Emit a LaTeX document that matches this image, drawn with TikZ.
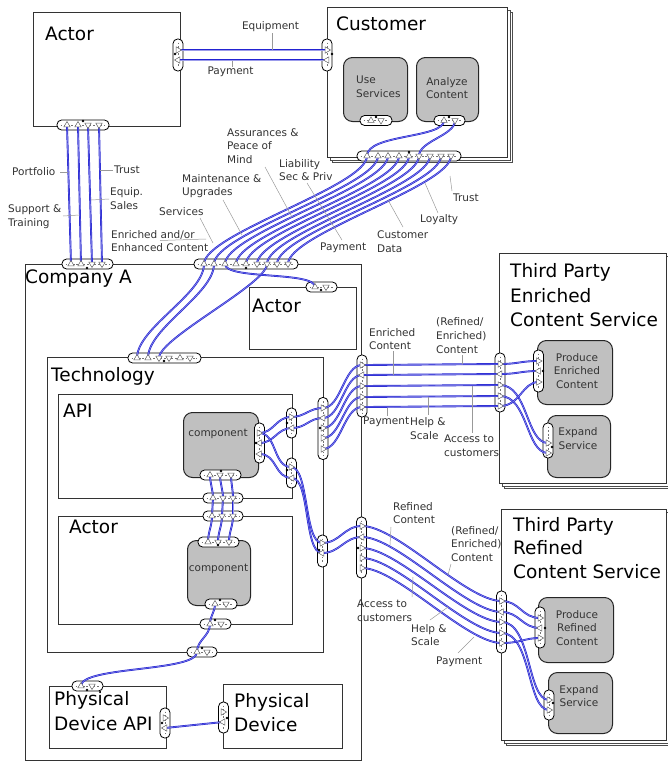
\documentclass[tikz,border=0pt]{standalone}
\usepackage{fontspec}
\setmainfont{DejaVu Sans}
\usetikzlibrary{shapes.geometric}
\pgfdeclarelayer{bg}
\pgfdeclarelayer{pills}
\pgfdeclarelayer{wires}
\pgfsetlayers{bg,pills,wires,main}

\definecolor{wireblue}{RGB}{35,35,210}
\definecolor{compgray}{RGB}{192,192,192}
\definecolor{labelgray}{RGB}{50,50,50}

\tikzset{
  box/.style={draw=black!80, line width=1pt, fill=white, inner sep=0pt},
  shadowbox/.style={draw=black!70, line width=0.8pt, fill=white, inner sep=0pt},
  gbox/.style={draw=black!85, line width=1pt, fill=compgray, rounded corners=9pt, inner sep=0pt},
  pillshape/.style={draw=black, line width=0.8pt, fill=white, rounded corners=4.6pt, inner sep=0pt},
  pilldash/.style={draw=black!55, line width=0.35pt, dash pattern=on 1.8pt off 1.8pt},
  tri/.style={regular polygon, regular polygon sides=3, draw=black!60, fill=white,
              line width=0.5pt, inner sep=0pt, minimum size=7.2pt},
  triU/.style={tri},
  triD/.style={tri, shape border rotate=180},
  triR/.style={tri, shape border rotate=-90},
  triL/.style={tri, shape border rotate=90},
  pdot/.style={circle, fill=black, inner sep=0pt, minimum size=2.6pt},
  wire/.style={draw=wireblue, line width=0.7pt, double=wireblue!45!white, double distance=0.45pt},
  lead/.style={draw=black!40, line width=0.5pt},
  lab/.style={font=\fontsize{10.5}{13.8}\selectfont, text=labelgray, inner sep=0pt, align=left, anchor=west},
  ttl/.style={font=\fontsize{18.5}{22}\selectfont, inner sep=0pt, anchor=base west},
  ctext/.style={font=\fontsize{10.5}{13.8}\selectfont, text=black!80, inner sep=0pt, align=center},
}

% box node given by its corners (x1,y1) (x2,y2)
\newcommand{\rectnode}[6]{\node[#1, anchor=north west, minimum width={(#5-#3)*1pt},
  minimum height={(#6-#4)*1pt}] (#2) at (#3,#4) {};}
% port pills: name, centre x, centre y, length
\newcommand{\hpillat}[4]{\node[pillshape, minimum width={#4*1pt}, minimum height=10pt] (#1) at (#2,#3) {};
  \draw[pilldash] ([xshift=4pt]#1.west) -- ([xshift=-4pt]#1.east);}
\newcommand{\vpillat}[4]{\node[pillshape, minimum width=10pt, minimum height={#4*1pt}] (#1) at (#2,#3) {};
  \draw[pilldash] ([yshift=-4pt]#1.north) -- ([yshift=4pt]#1.south);}

\begin{document}
\begin{tikzpicture}[x=1pt, y=-1pt]
\useasboundingbox (0,0) rectangle (668,761);

% ---------------- boxes ----------------
\begin{pgfonlayer}{bg}
\rectnode{shadowbox}{custS2}{332}{12}{512}{162}
\rectnode{shadowbox}{custS1}{329.5}{9.5}{509.5}{159.5}
\rectnode{box}{customer}{327}{7}{507}{157}
\rectnode{box}{actorTop}{33}{12}{180}{126}
\rectnode{box}{companyA}{25}{264}{361}{760}
\rectnode{box}{innerActor}{249}{287}{356}{349}
\rectnode{box}{tech}{47}{357}{323}{652}
\rectnode{box}{api}{58}{394}{292}{498}
\rectnode{box}{lowActor}{58}{516}{292}{624}
\rectnode{box}{pda}{49}{686}{166}{748}
\rectnode{box}{pd}{223}{684}{342}{748}
\rectnode{shadowbox}{tpES2}{504}{258}{671}{488}
\rectnode{shadowbox}{tpES1}{501.5}{255.5}{668.5}{485.5}
\rectnode{box}{tpE}{499}{253}{666}{483}
\rectnode{shadowbox}{tpRS2}{506}{514}{671}{745}
\rectnode{shadowbox}{tpRS1}{503.5}{511.5}{668.5}{742.5}
\rectnode{box}{tpR}{501}{509}{666}{740}
\rectnode{gbox}{useSvc}{343}{57}{407}{121}
\rectnode{gbox}{anaCont}{416}{57}{478}{121}
\rectnode{gbox}{comp1}{183}{412}{258}{477}
\rectnode{gbox}{comp2}{187}{540}{250}{605}
\rectnode{gbox}{prodE}{537}{340}{612}{404}
\rectnode{gbox}{expE}{547}{415}{610}{477}
\rectnode{gbox}{prodR}{538}{597}{613}{662}
\rectnode{gbox}{expR}{548}{672}{612}{733}
\end{pgfonlayer}

% ---------------- titles and box texts ----------------
\node[ttl] (tActor) at (45,40) {Actor};
\node[ttl] (tCust) at (336,30) {Customer};
\node[ttl] (tComp) at (25,283) {Company A};
\node[ttl] (tIAct) at (252,312) {Actor};
\node[ttl] (tTech) at (51,381) {Technology};
\node[ttl] (tApi) at (63,417) {API};
\node[ttl] (tLAct) at (69,533) {Actor};
\node[ttl] (tPda1) at (54,705) {Physical};
\node[ttl] (tPda2) at (54,730) {Device API};
\node[ttl] (tPd1) at (234,707) {Physical};
\node[ttl] (tPd2) at (234,731) {Device};
\node[ttl] (tE1) at (510,277) {Third Party};
\node[ttl] (tE2) at (510,302) {Enriched};
\node[ttl] (tE3) at (510,326) {Content Service};
\node[ttl] (tR1) at (513,531) {Third Party};
\node[ttl] (tR2) at (513,554) {Refined};
\node[ttl] (tR3) at (513,578) {Content Service};

\node[ctext, align=left, anchor=west] (xUse) at (356,86.5) {Use\\Services};
\node[ctext] (xAna) at (447,88) {Analyze\\Content};
\node[ctext] (xC1) at (218,434) {component};
\node[ctext] (xC2) at (218.5,569) {component};
\node[ctext] (xPE) at (577,371) {Produce\\Enriched\\Content};
\node[ctext] (xEE) at (578,438.5) {Expand\\Service};
\node[ctext] (xPR) at (577,628) {Produce\\Refined\\Content};
\node[ctext] (xER) at (579,696) {Expand\\Service};

% ---------------- port pills ----------------
\begin{pgfonlayer}{pills}
\vpillat{pAR}{178}{55}{32}
\vpillat{pCL}{327}{55}{32}
\hpillat{pAB}{83}{125}{52}
\hpillat{pCTL}{87.5}{264}{51}
\hpillat{pCTR}{246}{264}{104}
\hpillat{pCB}{409}{156}{104}
\hpillat{pUB}{376}{120.5}{32}
\hpillat{pNB}{449.5}{120.5}{31}
\hpillat{pIA}{321.5}{287}{31}
\hpillat{pTT}{164.5}{358}{73}
\vpillat{pK1}{259.5}{443}{40}
\vpillat{pAU}{291.5}{423}{30}
\vpillat{pAL}{291.5}{473}{30}
\hpillat{pKB}{220.5}{475}{41}
\hpillat{pAPB}{223}{498}{40}
\hpillat{pLT}{223}{516}{40}
\hpillat{pMT}{218.5}{542}{41}
\hpillat{pMB}{221}{604}{32}
\hpillat{pLB}{215.5}{624}{31}
\hpillat{pTB}{202}{652}{30}
\hpillat{pPT}{87.5}{686}{31}
\vpillat{pPR}{165}{723}{30}
\vpillat{pPL}{223.5}{717.5}{31}
\vpillat{pTRU}{323}{428.5}{62}
\vpillat{pTRL}{322.5}{551}{32}
\vpillat{pCRU}{362}{386}{62}
\vpillat{pCRL}{361.5}{547.5}{61}
\vpillat{pEL}{500}{382.5}{59}
\vpillat{pPEL}{538.5}{371}{42}
\vpillat{pXEL}{548}{440.5}{35}
\vpillat{pRL}{501.5}{622}{62}
\vpillat{pPRL}{540}{627.5}{41}
\vpillat{pXRL}{549}{705}{30}
\end{pgfonlayer}

% ---------------- port triangles ----------------
\node[triR] (a1) at (178,50) {};
\node[triL] (a2) at (178,60) {};
\node[triR] (c1) at (327,50) {};
\node[triL] (c2) at (327,60) {};
\node[triU] (ab1) at (67,125) {};
\node[triU] (ab2) at (78,125) {};
\node[triD] (ab3) at (88,125) {};
\node[triD] (ab4) at (99,125) {};
\node[triU] (ct1) at (71,264) {};
\node[triU] (ct2) at (81,264) {};
\node[triD] (ct3) at (92,264) {};
\node[triD] (ct4) at (102,264) {};
\node[triU] (cr1) at (204,264) {};
\node[triU] (cr2) at (214,264) {};
\node[triU] (cr3) at (225,264) {};
\node[triU] (cr4) at (236,264) {};
\node[triU] (cr5) at (246,264) {};
\node[triD] (cr6) at (257,264) {};
\node[triD] (cr7) at (267,264) {};
\node[triD] (cr8) at (277,264) {};
\node[triD] (cr9) at (288,264) {};
\node[triU] (cb1) at (367,156) {};
\node[triU] (cb2) at (378,156) {};
\node[triU] (cb3) at (388,156) {};
\node[triU] (cb4) at (399,156) {};
\node[triU] (cb5) at (409,156) {};
\node[triD] (cb6) at (419,156) {};
\node[triD] (cb7) at (430,156) {};
\node[triD] (cb8) at (441,156) {};
\node[triD] (cb9) at (451,156) {};
\node[triU] (us1) at (371,120.5) {};
\node[triD] (us2) at (381,120.5) {};
\node[triU] (an1) at (444,120.5) {};
\node[triD] (an2) at (455,120.5) {};
\node[triU] (ia1) at (315,287) {};
\node[triD] (ia2) at (326,287) {};
\node[triU] (tt1) at (137,358) {};
\node[triU] (tt2) at (148,358) {};
\node[triD] (tt3) at (159,358) {};
\node[triD] (tt4) at (169,358) {};
\node[triU] (tt5) at (180,358) {};
\node[triD] (tt6) at (190,358) {};
\node[triR] (k1) at (259,433) {};
\node[triL] (k2) at (259.5,443) {};
\node[triL] (k3) at (259.5,454) {};
\node[triR] (u1) at (291,417) {};
\node[triL] (u2) at (292,428) {};
\node[triR] (l1) at (291,467) {};
\node[triL] (l2) at (292,478) {};
\node[triU] (kb1) at (210,475) {};
\node[triD] (kb2) at (220,475) {};
\node[triD] (kb3) at (231,475) {};
\node[triU] (pb1) at (213,498) {};
\node[triD] (pb2) at (223,498) {};
\node[triD] (pb3) at (233,498) {};
\node[triU] (lt1) at (212,516) {};
\node[triD] (lt2) at (222,516) {};
\node[triD] (lt3) at (233,516) {};
\node[triU] (mt1) at (208,542) {};
\node[triD] (mt2) at (218,542) {};
\node[triD] (mt3) at (229,542) {};
\node[triU] (mb1) at (215,604) {};
\node[triD] (mb2) at (226,604) {};
\node[triU] (lb1) at (210,624) {};
\node[triD] (lb2) at (221,624) {};
\node[triU] (tb1) at (197,652) {};
\node[triD] (tb2) at (207,652) {};
\node[triU] (pt1) at (81,686) {};
\node[triD] (pt2) at (92,686) {};
\node[triR] (pr1) at (165,718) {};
\node[triL] (pr2) at (165,728) {};
\node[triR] (pl1) at (223,712) {};
\node[triL] (pl2) at (223,722) {};
\node[triR] (tr1) at (323,408) {};
\node[triL] (tr2) at (323,418) {};
\node[triR] (tr3) at (323,428) {};
\node[triR] (tr4) at (323,438) {};
\node[triR] (tr5) at (323,449) {};
\node[triR] (tl1) at (322,543) {};
\node[triL] (tl2) at (322,553) {};
\node[triR] (cu1) at (362,365) {};
\node[triL] (cu2) at (362,375) {};
\node[triR] (cu3) at (362,386) {};
\node[triR] (cu4) at (362,397) {};
\node[triR] (cu5) at (362,407) {};
\node[triR] (cl1) at (362,526) {};
\node[triL] (cl2) at (362,537) {};
\node[triR] (cl3) at (362,548) {};
\node[triR] (cl4) at (362,558) {};
\node[triR] (cl5) at (362,568) {};
\node[triR] (ep1) at (500,364) {};
\node[triL] (ep2) at (500,374) {};
\node[triR] (ep3) at (500,385) {};
\node[triR] (ep4) at (500,396) {};
\node[triR] (ep5) at (500,406) {};
\node[triR] (pe1) at (538.5,361) {};
\node[triL] (pe2) at (538.5,371) {};
\node[triR] (pe3) at (538.5,382) {};
\node[triR] (xe1) at (548,443) {};
\node[triR] (xe2) at (548,453) {};
\node[triR] (rp1) at (501.5,601) {};
\node[triL] (rp2) at (501.5,612) {};
\node[triR] (rp3) at (501.5,622) {};
\node[triR] (rp4) at (501.5,633) {};
\node[triR] (rp5) at (501.5,643) {};
\node[triR] (qr1) at (540,618) {};
\node[triL] (qr2) at (540,628) {};
\node[triR] (qr3) at (540,638) {};
\node[triR] (xr1) at (549,700) {};
\node[triR] (xr2) at (549,710) {};

% pill marker dots
\foreach \n/\p in {d1/{175,54}, d2/{332,54}, d3/{83,121}, d4/{87,268}, d5/{246,268},
  d6/{409,152}, d7/{376,117}, d8/{449,117}, d9/{321,290}, d10/{164,361}, d11/{256,443},
  d12/{287,423}, d13/{287,470}, d14/{221,471}, d15/{218,545}, d16/{220,600}, d17/{215,620},
  d18/{202,648}, d19/{87,690}, d20/{162,723}, d21/{227,718}, d22/{320,428}, d23/{319,550},
  d24/{358,548}, d25/{543,371}, d26/{552,447}, d27/{545,628}, d28/{553,703}}
  \node[pdot] (\n) at (\p) {};

% ---------------- connectors ----------------
\begin{pgfonlayer}{wires}
\draw[wire] (a1.center) -- (c1.center);
\draw[wire] (c2.center) -- (a2.center);
\foreach \i in {1,...,4} \draw[wire] (ab\i.center) -- (ct\i.center);
\foreach \i in {1,...,9} \draw[wire] (cb\i.center) .. controls +(0,30) and +(0,-30) .. (cr\i.center);
\draw[wire] (an1.center) .. controls +(0,18) and +(0,-22) .. (cb1.center);
\draw[wire] (an2.center) .. controls +(0,15) and +(0,-15) .. (cb6.center);
\draw[wire] (cr1.center) .. controls +(0,30) and +(0,-30) .. (tt1.center);
\draw[wire] (cr2.center) .. controls +(0,30) and +(0,-30) .. (tt2.center);
\draw[wire] (cr7.center) .. controls +(0,20) and +(0,-20) .. (tt3.center);
\draw[wire] (cr3.center) .. controls +(0,16) and +(0,-16) .. (ia1.center);

\draw[wire] (k1.center) .. controls +(15,0) and +(-15,0) .. (u1.center);
\draw[wire] (k2.center) .. controls +(15,0) and +(-15,0) .. (u2.center);
\draw[wire] (k1.center) .. controls +(18,0) and +(-18,0) .. (l1.center);
\draw[wire] (k3.center) .. controls +(18,0) and +(-18,0) .. (l2.center);
\draw[wire] (u1.center) .. controls +(14,0) and +(-14,0) .. (tr1.center);
\draw[wire] (u2.center) .. controls +(14,0) and +(-14,0) .. (tr2.center);
\draw[wire] (l1.center) .. controls +(18,0) and +(-18,0) .. (tl1.center);
\draw[wire] (l2.center) .. controls +(18,0) and +(-18,0) .. (tl2.center);
\draw[wire] (tl1.center) .. controls +(18,0) and +(-18,0) .. (cl1.center);
\draw[wire] (tl2.center) .. controls +(18,0) and +(-18,0) .. (cl2.center);
\foreach \i in {1,...,5} \draw[wire] (tr\i.center) .. controls +(18,0) and +(-18,0) .. (cu\i.center);

\foreach \i in {1,...,5} \draw[wire] (cu\i.center) -- (ep\i.center);
\draw[wire] (ep1.center) .. controls +(18,0) and +(-18,0) .. (pe1.center);
\draw[wire] (ep2.center) .. controls +(18,0) and +(-18,0) .. (pe2.center);
\draw[wire] (ep3.center) .. controls +(28,0) and +(-22,0) .. (xe1.center);
\draw[wire] (ep4.center) .. controls +(28,0) and +(-22,0) .. (xe2.center);
\draw[wire] (ep5.center) .. controls +(20,0) and +(-16,0) .. (pe3.center);

\foreach \i in {1,...,5} \draw[wire] (cl\i.center) .. controls +(35,0) and +(-35,0) .. (rp\i.center);
\draw[wire] (rp1.center) .. controls +(18,0) and +(-18,0) .. (qr1.center);
\draw[wire] (rp2.center) .. controls +(18,0) and +(-18,0) .. (qr2.center);
\draw[wire] (rp3.center) .. controls +(30,0) and +(-22,0) .. (xr1.center);
\draw[wire] (rp4.center) .. controls +(30,0) and +(-22,0) .. (xr2.center);
\draw[wire] (rp5.center) .. controls +(20,0) and +(-16,0) .. (qr3.center);

\foreach \i in {1,2,3} {
  \draw[wire] (kb\i.center) .. controls +(0,8) and +(0,-8) .. (pb\i.center);
  \draw[wire] (pb\i.center) -- (lt\i.center);
  \draw[wire] (lt\i.center) .. controls +(0,10) and +(0,-10) .. (mt\i.center);
}
\draw[wire] (mb1.center) .. controls +(0,8) and +(0,-8) .. (lb1.center);
\draw[wire] (lb1.center) .. controls +(0,12) and +(0,-12) .. (tb1.center);
\draw[wire] (tb1.center) .. controls +(0,20) and +(0,-20) .. (pt1.center);
\draw[wire] (pr2.center) -- (pl2.center);
\end{pgfonlayer}

% ---------------- flow labels ----------------
\node[lab, anchor=center] (lEquip) at (270.5,27) {Equipment};
\node[lab, anchor=center] (lPay1) at (230.5,72) {Payment};
\node[lab] (lPort) at (12,172) {Portfolio};
\node[lab] (lTrust1) at (114,170) {Trust};
\node[lab] (lSupp) at (8,216.5) {Support \&\\Training};
\node[lab] (lEqS) at (110,198.5) {Equip.\\Sales};
\node[lab] (lAssu) at (227,146) {Assurances \&\\Peace of\\Mind};
\node[lab] (lLiab) at (279,170) {Liability\\Sec \& Priv};
\node[lab] (lMaint) at (182,186) {Maintenance \&\\Upgrades};
\node[lab] (lServ) at (159,212) {Services};
\node[lab] (lEnr) at (111,241) {Enriched and/or\\Enhanced Content};
\node[lab] (lPay2) at (320,248) {Payment};
\node[lab] (lCData) at (377,241.5) {Customer\\Data};
\node[lab] (lLoy) at (420,220) {Loyalty};
\node[lab] (lTrust2) at (453,198) {Trust};
\node[lab] (lEC) at (369,339) {Enriched\\Content};
\node[lab] (lREC1) at (436,335.5) {(Refined/\\Enriched)\\Content};
\node[lab] (lPayE) at (363,422) {Payment};
\node[lab] (lHelpE) at (410,428.5) {Help \&\\Scale};
\node[lab] (lAccE) at (444,446) {Access to\\customers};
\node[lab] (lRC) at (393,513) {Refined\\Content};
\node[lab] (lREC2) at (451,544) {(Refined/\\Enriched)\\Content};
\node[lab] (lAccR) at (357,611) {Access to\\customers};
\node[lab] (lHelpR) at (411,635) {Help \&\\Scale};
\node[lab] (lPayR) at (436,662) {Payment};

% leader lines from labels to their flows
\begin{pgfonlayer}{wires}
\foreach \n/\s/\e in {
  ldEq/{272,33}/{272,50}, ldPay1/{232,61}/{232,67}, ldPort/{60,172}/{68,172},
  ldTr1/{100,170}/{113,170}, ldSupp/{63,216}/{79.5,215}, ldEqS/{91,200}/{109,199},
  ldAssu/{265,167}/{292,217}, ldLiab/{307,183}/{342,240}, ldMaint/{223,200}/{242,235},
  ldServ/{200,218}/{213,243}, ldEnr/{160,240.5}/{206,239}, ldCD/{388,200}/{403,227},
  ldLoy/{425,183}/{438,213}, ldTr2/{450,176}/{452,191},
  ldEC/{393,351}/{393,375}, ldREC1/{462,355}/{462,364}, ldPayE/{387,408}/{387,416},
  ldHelpE/{428,397}/{428,415}, ldAccE/{472,386}/{472,433},
  ldRC/{391,527}/{390,545}, ldREC2/{451,564}/{448,575}, ldAccR/{413,577}/{412,597},
  ldHelpR/{430,620}/{448,607}, ldPayR/{458,653}/{474,637}} {
  \coordinate (\n a) at (\s);
  \coordinate (\n b) at (\e);
  \draw[lead] (\n a) -- (\n b);
}
\end{pgfonlayer}
\end{tikzpicture}
\end{document}
